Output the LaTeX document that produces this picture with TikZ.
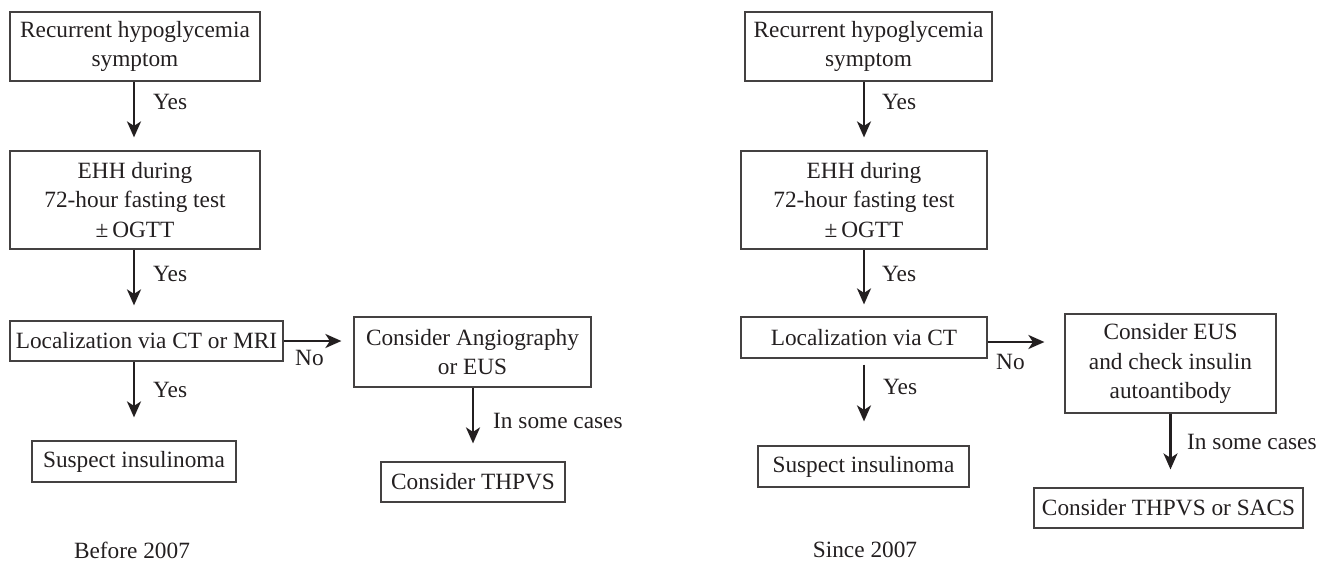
\documentclass[tikz,border=0pt]{standalone}
\usepackage{fontspec}
\setmainfont{Liberation Serif}
\usetikzlibrary{arrows.meta}
\definecolor{ink}{HTML}{231F20}
\begin{document}
\begin{tikzpicture}[x=1pt,y=-1pt,
  font=\fontsize{23.3}{29.5}\selectfont,
  box/.style={draw=ink!85, line width=1.2pt, text=ink, align=center, inner sep=0pt},
  arr/.style={draw=ink, line width=2.4pt, -{Stealth[length=16pt,width=14pt,inset=4.5pt]}},
  lbl/.style={text=ink, inner sep=0pt, anchor=west}]
\useasboundingbox (0,0) rectangle (1325,562);
% ---------- left panel ----------
\node[box, minimum width=250, minimum height=69] (A1) at (135,46.5) {Recurrent hypoglycemia\\symptom};
\node[box, minimum width=250, minimum height=98] (B1) at (135,200) {EHH during\\72-hour fasting test\\±\,OGTT};
\node[box, minimum width=273, minimum height=40] (C1) at (146.5,341) {Localization via CT or MRI};
\node[box, minimum width=237, minimum height=70] (D1) at (472.5,352) {Consider Angiography\\or EUS};
\node[box, minimum width=184, minimum height=40] (E1) at (473,482) {Consider THPVS};
\node[box, minimum width=204, minimum height=41] (F1) at (134,461.5) {Suspect insulinoma};
\node[text=ink, inner sep=0pt] (T1) at (132,550) {Before 2007};

\draw[arr] (A1.south -| F1) -- ([yshift=13pt]B1.north -| F1);
\draw[arr] (B1.south -| F1) -- ([yshift=15pt]C1.north -| F1);
\draw[arr] (C1.south -| F1) -- ([yshift=23pt]F1.north);
\draw[arr] (C1.east) -- ([xshift=-12pt]D1.west |- C1.east);
\draw[arr] (D1.south -| E1) -- ([yshift=18pt]E1.north);

\node[lbl] (y1) at (153,102) {Yes};
\node[lbl] (y2) at (153,274) {Yes};
\node[lbl] (y3) at (153,390) {Yes};
\node[lbl] (n1) at (295,358) {No};
\node[lbl] (s1) at (493,421) {In some cases};

% ---------- right panel ----------
\node[box, minimum width=247, minimum height=69] (A2) at (868.5,46.5) {Recurrent hypoglycemia\\symptom};
\node[box, minimum width=246, minimum height=98] (B2) at (864,200) {EHH during\\72-hour fasting test\\±\,OGTT};
\node[box, minimum width=246, minimum height=41] (C2) at (864,337.5) {Localization via CT};
\node[box, minimum width=211, minimum height=99] (D2) at (1170.5,363.5) {Consider EUS\\and check insulin\\autoantibody};
\node[box, minimum width=269, minimum height=40] (E2) at (1168.5,508) {Consider THPVS or SACS};
\node[box, minimum width=211, minimum height=41] (F2) at (863.5,466.5) {Suspect insulinoma};
\node[text=ink, inner sep=0pt] (T2) at (865,550) {Since 2007};

\draw[arr] (A2.south -| C2) -- ([yshift=13pt]B2.north -| C2);
\draw[arr] (B2.south -| C2) -- ([yshift=12pt]C2.north);
\draw[arr] ([yshift=-6pt]C2.south) -- ([yshift=24pt]F2.north -| C2);
\draw[arr] ([yshift=-4.5pt]C2.east) -- ([xshift=-20pt,yshift=-4.5pt]D2.west |- C2.east);
\draw[arr] (D2.south) -- ([yshift=18pt]E2.north -| D2);

\node[lbl] (y4) at (882,102) {Yes};
\node[lbl] (y5) at (882,274) {Yes};
\node[lbl] (y6) at (883,387) {Yes};
\node[lbl] (n2) at (996,362) {No};
\node[lbl] (s2) at (1187,442) {In some cases};
\end{tikzpicture}
\end{document}
